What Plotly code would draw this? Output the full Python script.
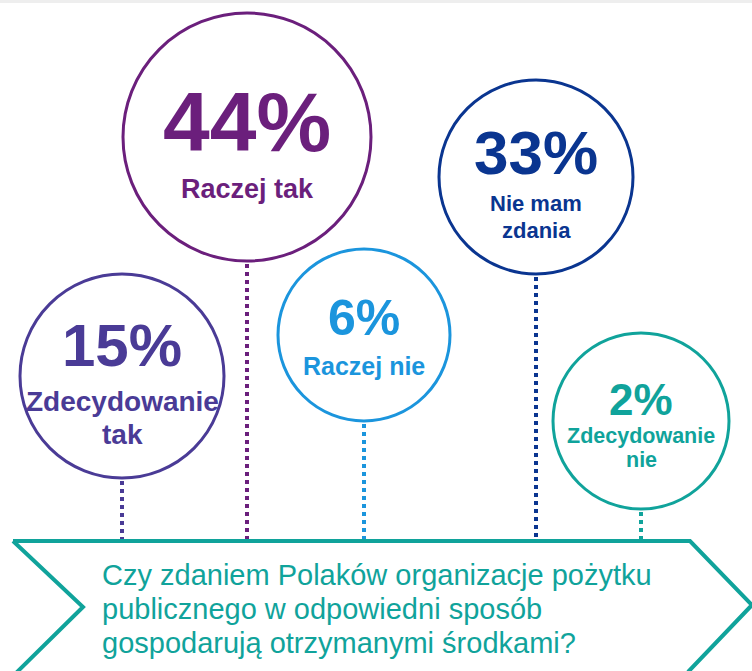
import plotly.graph_objects as go

# ---- data ----
values = [15, 44, 6, 33, 2]
labels = [["Zdecydowanie", "tak"], ["Raczej tak"], ["Raczej nie"], ["Nie mam", "zdania"], ["Zdecydowanie", "nie"]]
colors = ["#4a3b96", "#6b1f7c", "#1b95dd", "#0a3590", "#10a39b"]
question_lines = [
    "Czy zdaniem Polaków organizacje pożytku",
    "publicznego w odpowiedni sposób",
    "gospodarują otrzymanymi środkami?",
]

# ---- layout (positions / sizes, pixel units) ----
W, H = 752, 671
banner_color = "#10a39b"
banner_top = 541
circles = [  # cx, cy, r, pct_font, pct_y, label_font, label_ys
    dict(cx=122, cy=376, r=102, pf=60, py=345, lf=28, ly=[401, 434]),
    dict(cx=247, cy=137, r=124, pf=84, py=122, lf=27, ly=[189]),
    dict(cx=364, cy=335, r=86, pf=50, py=318, lf=25, ly=[366]),
    dict(cx=536, cy=177, r=97, pf=62, py=152, lf=22, ly=[203, 230]),
    dict(cx=641, cy=421, r=88, pf=44, py=399, lf=21.5, ly=[436, 460]),
]

fig = go.Figure()
# invisible trace to establish axes
fig.add_trace(go.Scatter(x=[0, W], y=[0, H], mode="markers",
                         marker=dict(opacity=0), hoverinfo="skip", showlegend=False))

shapes = []
annotations = []
# top grey band
shapes.append(dict(type="rect", xref="paper", yref="paper", x0=0, x1=1, y0=1 - 3 / H, y1=1,
                   fillcolor="#eeeeee", line=dict(width=0), layer="below"))

for v, lab, col, c in zip(values, labels, colors, circles):
    shapes.append(dict(type="circle", xref="x", yref="y",
                       x0=c["cx"] - c["r"], x1=c["cx"] + c["r"],
                       y0=c["cy"] - c["r"], y1=c["cy"] + c["r"],
                       line=dict(color=col, width=3)))
    shapes.append(dict(type="line", xref="x", yref="y",
                       x0=c["cx"], x1=c["cx"], y0=c["cy"] + c["r"] + 3, y1=banner_top - 1,
                       line=dict(color=col, width=4, dash="4px,4px")))
    annotations.append(dict(x=c["cx"], y=c["py"], xref="x", yref="y",
                            text=f"<b>{v}%</b>", showarrow=False,
                            xanchor="center", yanchor="middle", borderpad=0,
                            font=dict(family="Liberation Sans, Arial, sans-serif",
                                      size=c["pf"], color=col)))
    for line, ly in zip(lab, c["ly"]):
        annotations.append(dict(x=c["cx"], y=ly, xref="x", yref="y",
                                text=f"<b>{line}</b>", showarrow=False,
                                xanchor="center", yanchor="middle", borderpad=0,
                                font=dict(family="Liberation Sans, Arial, sans-serif",
                                          size=c["lf"], color=col)))

# banner chevron
path = (f"M 13,{banner_top} L 690,{banner_top} L 752,605 L 688,672 "
        f"M 13,{banner_top} L 83,607 L 13,676")
shapes.append(dict(type="path", xref="x", yref="y", path=path,
                   line=dict(color=banner_color, width=4)))

for i, t in enumerate(question_lines):
    annotations.append(dict(x=101, y=575 + 34 * i, xref="x", yref="y",
                            text=t, showarrow=False, xanchor="left", yanchor="middle",
                            borderpad=0,
                            font=dict(family="Liberation Sans, Arial, sans-serif",
                                      size=29, color=banner_color)))

fig.update_layout(
    width=W, height=H,
    margin=dict(l=0, r=0, t=0, b=0),
    paper_bgcolor="white", plot_bgcolor="white",
    xaxis=dict(range=[0, W], visible=False, fixedrange=True),
    yaxis=dict(range=[H, 0], visible=False, fixedrange=True),
    shapes=shapes, annotations=annotations,
    showlegend=False,
)
fig.write_html("out.html", config={"displayModeBar": False},
               post_script="document.body.style.margin='0';document.body.style.overflow='hidden';")
